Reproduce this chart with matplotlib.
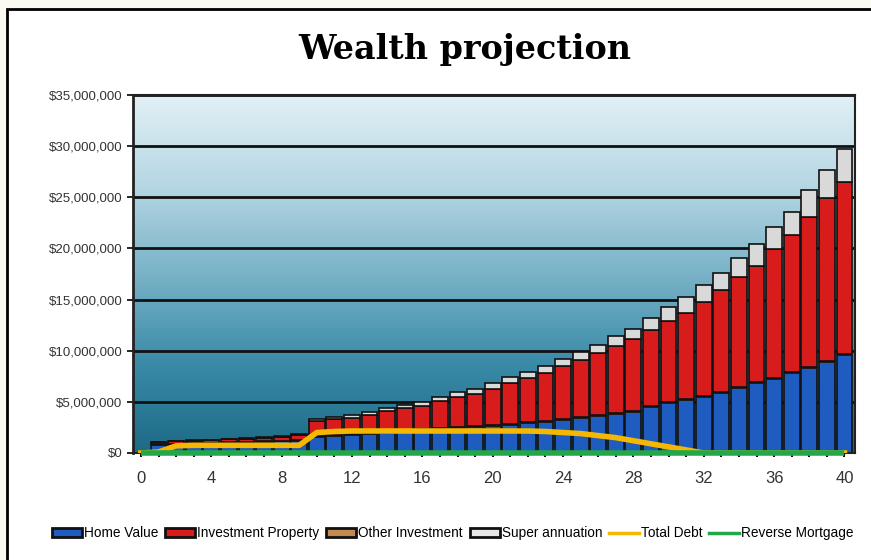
import numpy as np
import matplotlib.pyplot as plt
from matplotlib.patches import Rectangle
from matplotlib.lines import Line2D
from matplotlib.colors import LinearSegmentedColormap
from matplotlib.ticker import FuncFormatter, MultipleLocator

plt.rcParams['font.family'] = ['Liberation Sans', 'DejaVu Sans']

# Data (values in $ millions), years 1..40
years = list(range(1, 41))
home_value = [0.8, 0.85, 0.9, 0.95, 1.0, 1.05, 1.1, 1.15, 1.2,
              1.6, 1.7, 1.8, 1.9, 2.0, 2.1, 2.2, 2.3, 2.4, 2.5, 2.6,
              2.75, 2.9, 3.05, 3.2, 3.4, 3.6, 3.8, 4.0, 4.5, 4.9,
              5.2, 5.5, 5.9, 6.4, 6.8, 7.2, 7.8, 8.3, 8.9, 9.6]
investment_property = [0.2, 0.25, 0.25, 0.25, 0.3, 0.3, 0.35, 0.4, 0.55,
                       1.4, 1.5, 1.55, 1.7, 2.0, 2.2, 2.3, 2.7, 3.0, 3.2, 3.6,
                       4.0, 4.3, 4.7, 5.2, 5.6, 6.1, 6.6, 7.0, 7.4, 7.9,
                       8.4, 9.2, 9.9, 10.7, 11.4, 12.6, 13.4, 14.7, 15.9, 16.8]
other_investment = [0.05] * 9 + [0.1] * 31
super_annuation = [0.05, 0.05, 0.05, 0.05, 0.05, 0.05, 0.05, 0.05, 0.05,
                   0.2, 0.22, 0.25, 0.28, 0.3, 0.33, 0.36, 0.4, 0.44, 0.48, 0.52,
                   0.56, 0.6, 0.65, 0.7, 0.75, 0.8, 0.9, 1.05, 1.2, 1.4,
                   1.55, 1.6, 1.7, 1.9, 2.1, 2.2, 2.3, 2.6, 2.8, 3.2]

line_years = list(range(0, 41))
total_debt = [0, 0.1, 0.7, 0.75, 0.75, 0.75, 0.75, 0.75, 0.75, 0.75,
              2.0, 2.1, 2.15, 2.15, 2.15, 2.15, 2.15, 2.15, 2.15, 2.15,
              2.15, 2.15, 2.15, 2.1, 2.0, 1.9, 1.7, 1.5, 1.2, 0.9,
              0.6, 0.3, 0.0, 0, 0, 0, 0, 0, 0, 0, 0]
reverse_mortgage = [0] * 41

M = 1e6
home = np.array(home_value) * M
inv = np.array(investment_property) * M
oth = np.array(other_investment) * M
sup = np.array(super_annuation) * M

fig = plt.figure(figsize=(8.71, 5.6), dpi=100, facecolor='#fbfaf0')

# outer white frame
fig.patches.append(Rectangle((7 / 871, -0.05), 1.05, 1 - 9 / 560 + 0.05,
                             transform=fig.transFigure, facecolor='white',
                             edgecolor='black', lw=2, zorder=-10))

ax = fig.add_axes([133 / 871, 1 - 453 / 560, (855 - 133) / 871, (453 - 95) / 560])

# gradient background
cmap = LinearSegmentedColormap.from_list('bg', ['#1d6a86', '#3a8ba8', '#79b2c7',
                                                '#b6d7e4', '#e2f0f6'])
grad = np.linspace(0, 1, 256).reshape(-1, 1)
ax.imshow(grad, aspect='auto', cmap=cmap, origin='lower',
          extent=[-0.45, 40.6, 0, 35 * M], zorder=0)

# gridlines
for v in range(5, 36, 5):
    ax.axhline(v * M, color='#111111', lw=2, zorder=1)

w = 0.9
ec = '#111111'
ax.bar(years, home, w, color='#1f5cc0', edgecolor=ec, lw=1.2, zorder=2)
ax.bar(years, oth, w, bottom=home, color='#c08a50', edgecolor=ec, lw=0.6, zorder=2)
ax.bar(years, inv, w, bottom=home + oth, color='#d81c1c', edgecolor=ec, lw=1.2, zorder=2)
ax.bar(years, sup, w, bottom=home + oth + inv, color='#d9d9d9', edgecolor=ec, lw=1.2, zorder=2)

ax.plot(line_years, np.array(total_debt) * M, color='#f5b800', lw=4, zorder=3)
ax.plot(line_years, np.array(reverse_mortgage) * M, color='#22a84a', lw=4, zorder=4,
        solid_capstyle='butt', clip_on=False)

ax.set_xlim(-0.45, 40.6)
ax.set_ylim(0, 35 * M)
ax.xaxis.set_major_locator(MultipleLocator(4))
ax.xaxis.set_minor_locator(MultipleLocator(1))
ax.yaxis.set_major_locator(MultipleLocator(5 * M))
ax.yaxis.set_major_formatter(FuncFormatter(lambda v, p: '${:,.0f}'.format(v)))
ax.tick_params(axis='x', which='both', length=3, width=1.5, color='#111111',
               labelsize=12, pad=10, labelcolor='#333333')
ax.tick_params(axis='y', length=4, width=1.2, labelsize=9.5, labelcolor='#333333')
for s in ax.spines.values():
    s.set_color('#222222')
ax.spines['left'].set_linewidth(2)
ax.spines['bottom'].set_linewidth(1.5)
ax.spines['top'].set_linewidth(1.5)
ax.spines['right'].set_linewidth(1.5)

fig.text(0.534, 0.912, 'Wealth projection', ha='center', va='center',
         fontsize=24, fontweight='bold', family='DejaVu Serif')

handles = [
    Rectangle((0, 0), 1, 1, facecolor='#1f5cc0', edgecolor='#111111', lw=2),
    Rectangle((0, 0), 1, 1, facecolor='#d81c1c', edgecolor='#111111', lw=2),
    Rectangle((0, 0), 1, 1, facecolor='#c08a50', edgecolor='#111111', lw=2),
    Rectangle((0, 0), 1, 1, facecolor='#e8e8e8', edgecolor='#111111', lw=2),
    Line2D([], [], color='#f5b800', lw=2.5),
    Line2D([], [], color='#22a84a', lw=2.5),
]
labels = ['Home Value', 'Investment Property', 'Other Investment',
          'Super annuation', 'Total Debt', 'Reverse Mortgage']
fig.legend(handles, labels, loc='center', bbox_to_anchor=(0.52, 0.048), ncol=6,
           frameon=False, handlelength=2.2, handleheight=0.6, handletextpad=0.15,
           columnspacing=0.5, prop={'size': 9.8})

fig.savefig('out.png', dpi=100, facecolor=fig.get_facecolor())
